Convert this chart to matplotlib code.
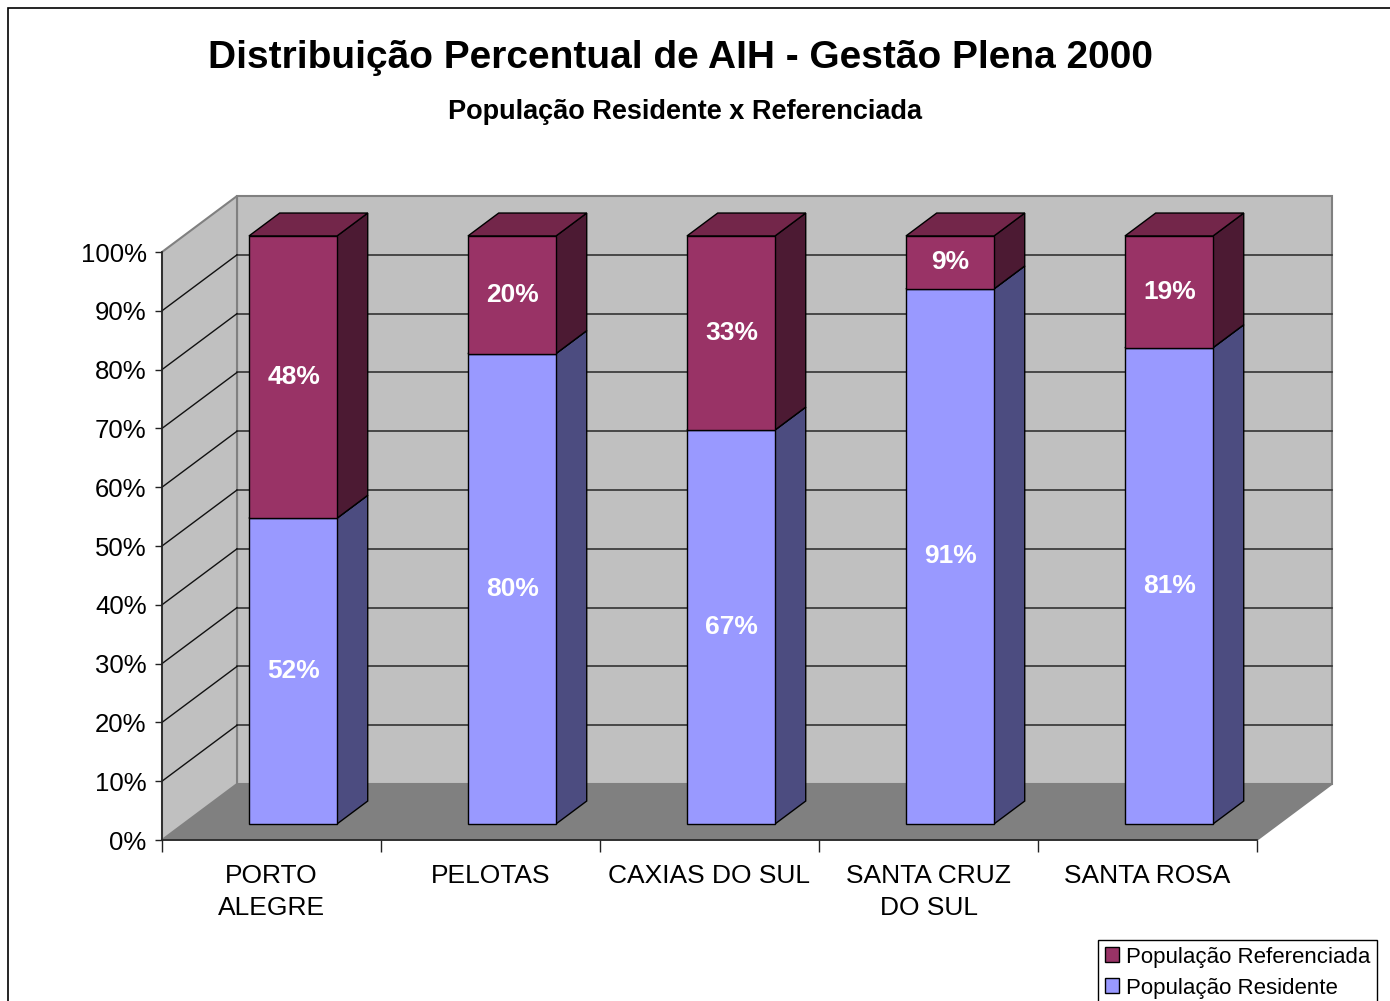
import matplotlib
matplotlib.use("Agg")
import matplotlib.pyplot as plt
from matplotlib.patches import Polygon, Rectangle

plt.rcParams['font.family'] = ['Liberation Sans', 'DejaVu Sans']

categories = ["PORTO\nALEGRE", "PELOTAS", "CAXIAS DO SUL", "SANTA CRUZ\nDO SUL", "SANTA ROSA"]
residente = [52, 80, 67, 91, 81]
referenciada = [48, 20, 33, 9, 19]
yticks = list(range(0, 101, 10))
ytick_labels = [f"{v}%" for v in yticks]
series_names = ["População Residente", "População Referenciada"]
title = "Distribuição Percentual de AIH - Gestão Plena 2000"
subtitle = "População Residente x Referenciada"

W, H = 1390, 1001
fig = plt.figure(figsize=(W / 100, H / 100), dpi=100)
fig.patch.set_facecolor("white")

ax = fig.add_axes([162 / W, (H - 840) / H, (1257 - 162) / W, 588 / H])
ax.set_xlim(0, len(categories))
ax.set_ylim(0, 100)
ax.patch.set_visible(False)

# depth projection (data units)
DX = 0.3425
DY = 9.52
wall_c = "#C0C0C0"
floor_c = "#808080"
edge_c = "#808080"

# walls
ncat = len(categories)
ax.add_patch(Polygon([(0, 0), (ncat, 0), (ncat + DX, DY), (DX, DY)], closed=True,
                     facecolor=floor_c, edgecolor=edge_c, lw=1.2, clip_on=False, zorder=0))
ax.add_patch(Polygon([(DX, DY), (ncat + DX, DY), (ncat + DX, 100 + DY), (DX, 100 + DY)], closed=True,
                     facecolor=wall_c, edgecolor=edge_c, lw=1.5, clip_on=False, zorder=0))
ax.add_patch(Polygon([(0, 0), (DX, DY), (DX, 100 + DY), (0, 100)], closed=True,
                     facecolor=wall_c, edgecolor=edge_c, lw=1.5, clip_on=False, zorder=0))
for v in yticks[1:-1]:
    ax.plot([DX, ncat + DX], [v + DY, v + DY], color="#333333", lw=1.2, clip_on=False, zorder=1)
    ax.plot([0, DX], [v, v + DY], color="#111111", lw=1.0, clip_on=False, zorder=1)

# bars
d0, d1 = 0.286, 0.696
hw = 0.201
seg_colors = [
    dict(front="#9999FF", side="#4C4C80", top="#7373BF"),
    dict(front="#993366", side="#4C1A33", top="#73264A"),
]
for i in range(ncat):
    base = 0
    for s, vals in enumerate([residente, referenciada]):
        v = vals[i]
        top = base + v
        c = seg_colors[s]
        x0 = i + 0.5 - hw + d0 * DX
        x1 = i + 0.5 + hw + d0 * DX
        ddx = (d1 - d0) * DX
        y_b = base + d0 * DY
        y_t = top + d0 * DY
        ddy = (d1 - d0) * DY
        # side
        ax.add_patch(Polygon([(x1, y_b), (x1 + ddx, y_b + ddy), (x1 + ddx, y_t + ddy), (x1, y_t)],
                             closed=True, facecolor=c["side"], edgecolor="black", lw=1.0,
                             clip_on=False, zorder=3))
        # top
        ax.add_patch(Polygon([(x0, y_t), (x1, y_t), (x1 + ddx, y_t + ddy), (x0 + ddx, y_t + ddy)],
                             closed=True, facecolor=c["top"], edgecolor="black", lw=1.0,
                             clip_on=False, zorder=3))
        # front
        ax.add_patch(Polygon([(x0, y_b), (x1, y_b), (x1, y_t), (x0, y_t)],
                             closed=True, facecolor=c["front"], edgecolor="black", lw=1.0,
                             clip_on=False, zorder=4))
        ax.text((x0 + x1) / 2 + 0.003, (y_b + y_t) / 2, f"{v}%", color="white", fontweight="bold",
                fontsize=19, ha="center", va="center", zorder=5)
        base = top

# axes
for sp in ["top", "right"]:
    ax.spines[sp].set_visible(False)
ax.spines["left"].set_color("#222222")
ax.spines["bottom"].set_color("#222222")
ax.spines["left"].set_linewidth(1.2)
ax.spines["bottom"].set_linewidth(1.2)
ax.spines["left"].set_zorder(2)
ax.spines["bottom"].set_zorder(2)

ax.set_yticks(yticks)
ax.set_yticklabels(ytick_labels, fontsize=18.5)
ax.tick_params(axis="y", length=5, width=1, color="#222222", pad=6)

ax.set_xticks([i + 0.5 for i in range(ncat)])
ax.set_xticklabels(categories, fontsize=19, linespacing=1.45)
ax.set_xticks(list(range(ncat + 1)), minor=True)
ax.tick_params(axis="x", which="major", length=0, pad=17)
ax.tick_params(axis="x", which="minor", length=8.5, width=1, color="#222222")

# titles
fig.text(680 / W, 1 - 58 / H, title, fontsize=28, fontweight="bold", ha="center", va="center")
fig.text(685 / W, 1 - 112 / H, subtitle, fontsize=19.5, fontweight="bold", ha="center", va="center")

# legend
handles = [Rectangle((0, 0), 1, 1, facecolor="#993366", edgecolor="black", lw=1),
           Rectangle((0, 0), 1, 1, facecolor="#9999FF", edgecolor="black", lw=1)]
leg = fig.legend(handles, [series_names[1], series_names[0]], loc="upper left",
                 bbox_to_anchor=(1098 / W, 1 - 940 / H), fontsize=16, frameon=True,
                 fancybox=False, framealpha=1, edgecolor="black",
                 handlelength=0.65, handleheight=0.65, handletextpad=0.3,
                 borderpad=0.3, labelspacing=0.45, borderaxespad=0)
leg.get_frame().set_linewidth(1.0)

# outer border
fig.patches.append(Rectangle((8 / W, -0.1), 2, 1 - 8 / H + 0.1, transform=fig.transFigure,
                             fill=False, edgecolor="black", lw=1.2))

fig.savefig("out.png", dpi=100)
